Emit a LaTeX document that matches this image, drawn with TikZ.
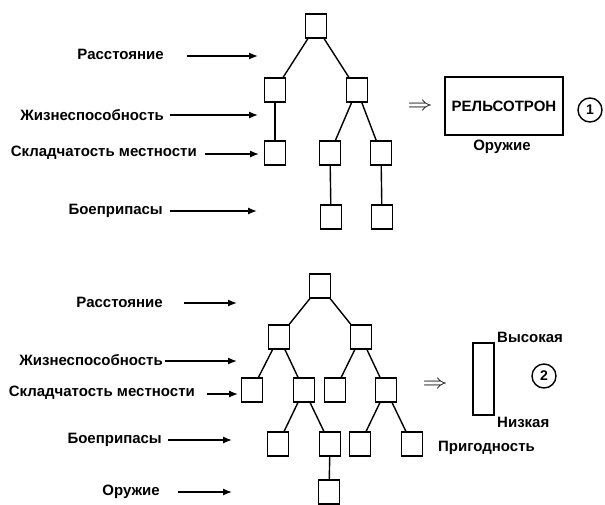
\documentclass[tikz,border=0pt]{standalone}
\usepackage{fontspec}
\setmainfont{Liberation Sans}
\usetikzlibrary{arrows.meta}
\begin{document}
\begin{tikzpicture}[x=1pt,y=-1pt,
  sq/.style={draw,line width=1.5pt,minimum width=21pt,minimum height=24pt,inner sep=0pt},
  lbl/.style={font=\fontsize{15}{17}\selectfont\bfseries,anchor=east,inner sep=0pt},
  txt/.style={font=\fontsize{15}{17}\selectfont\bfseries,inner sep=0pt},
  edge/.style={line width=1.4pt},
  arr/.style={line width=1.3pt,-{Latex[length=9pt,width=7pt]}},
  impl/.style={inner sep=0pt},
  num/.style={draw,circle,line width=1.4pt,minimum size=24pt,inner sep=0pt,font=\fontsize{14}{16}\selectfont\bfseries},
]
\useasboundingbox (0,0) rectangle (605,504);
% ---------- top tree ----------
\node[sq] (r)  at (316,26) {};
\node[sq] (a)  at (275,90) {};
\node[sq] (b)  at (357,90) {};
\node[sq] (c)  at (275,153) {};
\node[sq] (d)  at (330,153) {};
\node[sq] (e)  at (381,153) {};
\node[sq] (f)  at (331,217) {};
\node[sq] (g)  at (382,217) {};
\draw[edge] (r) -- (a); \draw[edge] (r) -- (b);
\draw[edge] (a) -- (c);
\draw[edge] (b) -- (d); \draw[edge] (b) -- (e);
\draw[edge] (d) -- (f); \draw[edge] (e) -- (g);
% labels top
\node[lbl] (t1) at (164,54) {Расстояние};
\node[lbl] (t2) at (164,115) {Жизнеспособность};
\node[lbl] (t3) at (197,153) {Складчатость местности};
\node[lbl] (t4) at (163,211) {Боеприпасы};
\coordinate (t1s) at (187,56); \coordinate (t1e) at (258,56);
\coordinate (t2s) at (170,115); \coordinate (t2e) at (258,115);
\coordinate (t3s) at (205,154); \coordinate (t3e) at (259,154);
\coordinate (t4s) at (170,211); \coordinate (t4e) at (257,211);
\draw[arr] (t1s) -- (t1e);
\draw[arr] (t2s) -- (t2e);
\draw[arr] (t3s) -- (t3e);
\draw[arr] (t4s) -- (t4e);
% result top
\node[impl] (i1) at (420,107) {\scalebox{2.5}[2.0]{$\Rightarrow$}};
\node[draw,line width=1.5pt,minimum width=118pt,minimum height=58pt,inner sep=0pt,font=\fontsize{15}{17}\selectfont\bfseries] (rail) at (504,106) {РЕЛЬСОТРОН};
\node[txt] (w1) at (502,147) {Оружие};
\node[num] (n1) at (590,110) {1};
% ---------- bottom tree ----------
\node[sq] (R)  at (320,286) {};
\node[sq] (A)  at (279,337) {};
\node[sq] (B)  at (361,337) {};
\node[sq] (C1) at (252,390) {};
\node[sq] (C2) at (304,390) {};
\node[sq] (C3) at (335,390) {};
\node[sq] (C4) at (386,390) {};
\node[sq] (D1) at (278,444) {};
\node[sq] (D2) at (330,444) {};
\node[sq] (D3) at (360,444) {};
\node[sq] (D4) at (412,444) {};
\node[sq] (E1) at (329,492) {};
\draw[edge] (R) -- (A); \draw[edge] (R) -- (B);
\draw[edge] (A) -- (C1); \draw[edge] (A) -- (C2);
\draw[edge] (B) -- (C3); \draw[edge] (B) -- (C4);
\draw[edge] (C2) -- (D1); \draw[edge] (C2) -- (D2);
\draw[edge] (C4) -- (D3); \draw[edge] (C4) -- (D4);
\draw[edge] (D2) -- (E1);
% labels bottom
\node[lbl] (u1) at (163,302) {Расстояние};
\node[lbl] (u2) at (163,360) {Жизнеспособность};
\node[lbl] (u3) at (195,393) {Складчатость местности};
\node[lbl] (u4) at (162,440) {Боеприпасы};
\node[lbl] (u5) at (160,492) {Оружие};
\coordinate (u1s) at (184,303); \coordinate (u1e) at (237,303);
\coordinate (u2s) at (165,361); \coordinate (u2e) at (237,361);
\coordinate (u3s) at (207,394); \coordinate (u3e) at (238,394);
\coordinate (u4s) at (168,440); \coordinate (u4e) at (232,440);
\coordinate (u5s) at (178,492); \coordinate (u5e) at (232,492);
\draw[arr] (u1s) -- (u1e);
\draw[arr] (u2s) -- (u2e);
\draw[arr] (u3s) -- (u3e);
\draw[arr] (u4s) -- (u4e);
\draw[arr] (u5s) -- (u5e);
% result bottom
\node[impl] (i2) at (435,385) {\scalebox{2.5}[2.0]{$\Rightarrow$}};
\node[draw,line width=1.5pt,minimum width=21pt,minimum height=72pt,inner sep=0pt] (bar) at (483.5,379) {};
\node[txt,anchor=west] (hi) at (497,337) {Высокая};
\node[txt,anchor=west] (lo) at (497,422) {Низкая};
\node[num] (n2) at (544,376) {2};
\node[txt,anchor=west] (fit) at (438,448) {Пригодность};
\end{tikzpicture}
\end{document}
